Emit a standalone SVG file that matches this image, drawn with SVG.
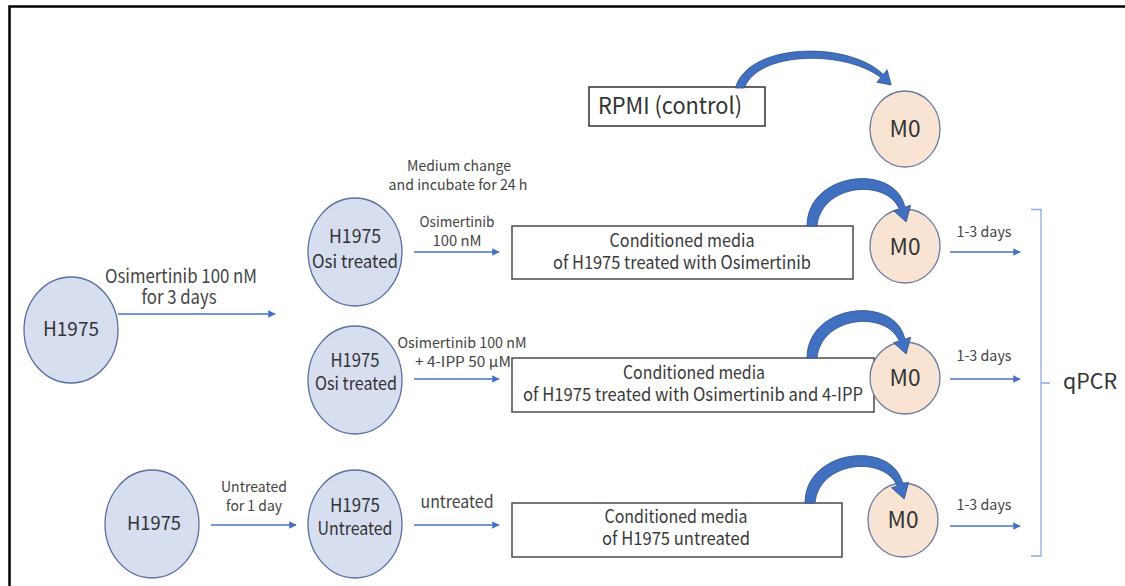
<svg xmlns="http://www.w3.org/2000/svg" xmlns:xlink="http://www.w3.org/1999/xlink" width="1125" height="586" viewBox="0 0 1125 586">
<defs>
<style>
text{font-family:"Noto Sans CJK JP","Liberation Sans",sans-serif;fill:#333;}
.cell{fill:#D7DEF0;stroke:#5A6FA0;stroke-width:1.3;}
.mac{fill:#F9E4D4;stroke:#6A7AA3;stroke-width:1.3;}
.box{fill:#fff;stroke:#4a4a4a;stroke-width:1.5;}
.big{font-size:18.5px;text-anchor:middle;}
.m0{font-size:23px;text-anchor:middle;}
.lbl{font-size:14.5px;text-anchor:middle;fill:#444;}
.bt{font-size:18px;text-anchor:middle;fill:#3a3a3a;}
.thin{stroke:#4472C4;stroke-width:1.5;fill:none;marker-end:url(#ah);}
.curve{fill:#4170C0;stroke:#2F528F;stroke-width:0.8;}
</style>
<marker id="ah" viewBox="0 0 10 10" refX="9" refY="5" markerWidth="5" markerHeight="5" markerUnits="strokeWidth" orient="auto">
<path d="M0,0 L10,5 L0,10 z" fill="#4472C4"/>
</marker>
<path id="bend" d="M 807 226 C 807 172, 895 162, 904.9 207.1 L 910.6 205.3 L 906.2 222 L 893.5 210.7 L 899.2 208.9 C 886 178, 821 184, 817 226 Z"/>
</defs>
<rect width="1125" height="586" fill="#fff"/>
<path d="M 9.5 590 V 6.5 H 1130" fill="none" stroke="#000" stroke-width="2.5"/>

<g id="h1975-start">
<ellipse class="cell" cx="71" cy="330" rx="47" ry="53"/>
<text class="big" x="71" y="336" style="font-size:19.5px" textLength="56" lengthAdjust="spacingAndGlyphs">H1975</text>
</g>
<g id="osi-treated-1">
<ellipse class="cell" cx="355" cy="252" rx="47" ry="54"/>
<text class="big" x="355" y="243" textLength="52" lengthAdjust="spacingAndGlyphs">H1975</text>
<text class="big" x="355" y="268" textLength="86" lengthAdjust="spacingAndGlyphs">Osi treated</text>
</g>
<g id="osi-treated-2">
<ellipse class="cell" cx="355" cy="380" rx="47" ry="54"/>
<text class="big" x="355" y="367" textLength="49" lengthAdjust="spacingAndGlyphs">H1975</text>
<text class="big" x="356" y="390" textLength="82" lengthAdjust="spacingAndGlyphs">Osi treated</text>
</g>
<g id="h1975-untreated-start">
<ellipse class="cell" cx="152" cy="524" rx="47" ry="54"/>
<text class="big" x="154" y="530" textLength="54" lengthAdjust="spacingAndGlyphs">H1975</text>
</g>
<g id="h1975-untreated">
<ellipse class="cell" cx="355" cy="524" rx="47" ry="54"/>
<text class="big" x="355" y="512" textLength="50" lengthAdjust="spacingAndGlyphs">H1975</text>
<text class="big" x="355" y="535" textLength="75" lengthAdjust="spacingAndGlyphs">Untreated</text>
</g>

<g id="rpmi">
<rect class="box" x="589" y="87" width="176" height="39" style="stroke:#333"/>
<text x="598" y="114" style="font-size:23px" textLength="144" lengthAdjust="spacingAndGlyphs">RPMI (control)</text>
</g>
<g id="cm-osi">
<rect class="box" x="512" y="226" width="341" height="53"/>
<text class="bt" x="682" y="247" textLength="145" lengthAdjust="spacingAndGlyphs">Conditioned media</text>
<text class="bt" x="682" y="269" textLength="258" lengthAdjust="spacingAndGlyphs">of H1975 treated with Osimertinib</text>
</g>
<g id="cm-osi-4ipp">
<rect class="box" x="512" y="358" width="362" height="54"/>
<text class="bt" x="694" y="379" textLength="142" lengthAdjust="spacingAndGlyphs">Conditioned media</text>
<text class="bt" x="693" y="401" textLength="340" lengthAdjust="spacingAndGlyphs">of H1975 treated with Osimertinib and 4-IPP</text>
</g>
<g id="cm-untreated">
<rect class="box" x="512" y="503" width="330" height="54"/>
<text class="bt" x="676" y="523" textLength="143" lengthAdjust="spacingAndGlyphs">Conditioned media</text>
<text class="bt" x="676" y="545" textLength="148" lengthAdjust="spacingAndGlyphs">of H1975 untreated</text>
</g>

<g id="m0-control">
<ellipse class="mac" cx="905" cy="129" rx="35" ry="38"/>
<text class="m0" x="905" y="137" textLength="31" lengthAdjust="spacingAndGlyphs">M0</text>
</g>
<g id="m0-osi">
<ellipse class="mac" cx="905" cy="246" rx="35" ry="37"/>
<text class="m0" x="905" y="255" textLength="31" lengthAdjust="spacingAndGlyphs">M0</text>
</g>
<g id="m0-osi-4ipp">
<ellipse class="mac" cx="905" cy="378" rx="35" ry="36"/>
<text class="m0" x="905" y="386" textLength="31" lengthAdjust="spacingAndGlyphs">M0</text>
</g>
<g id="m0-untreated">
<ellipse class="mac" cx="903" cy="520" rx="35" ry="37"/>
<text class="m0" x="903" y="528" textLength="31" lengthAdjust="spacingAndGlyphs">M0</text>
</g>

<g id="qpcr">
<path d="M 1031 209.5 H 1041 V 556 H 1031 M 1041 383 H 1050" fill="none" stroke="#8FAADC" stroke-width="1.3"/>
<text x="1063" y="389" style="font-size:21px" textLength="54" lengthAdjust="spacingAndGlyphs">qPCR</text>
</g>

<g id="connectors">
<line class="thin" x1="118" y1="314" x2="275" y2="314"/>
<text class="lbl" x="181" y="283" style="font-size:19px" textLength="152" lengthAdjust="spacingAndGlyphs">Osimertinib 100 nM</text>
<text class="lbl" x="179" y="304" style="font-size:19px" textLength="75" lengthAdjust="spacingAndGlyphs">for 3 days</text>

<text class="lbl" x="459" y="171" textLength="104" lengthAdjust="spacingAndGlyphs">Medium change</text>
<text class="lbl" x="458" y="190" textLength="139" lengthAdjust="spacingAndGlyphs">and incubate for 24 h</text>
<line class="thin" x1="414" y1="252" x2="499" y2="252"/>
<text class="lbl" x="457" y="227" textLength="75" lengthAdjust="spacingAndGlyphs">Osimertinib</text>
<text class="lbl" x="457" y="246" textLength="49" lengthAdjust="spacingAndGlyphs">100 nM</text>

<line class="thin" x1="414" y1="379" x2="499" y2="379"/>
<text class="lbl" x="462" y="348" textLength="129" lengthAdjust="spacingAndGlyphs">Osimertinib 100 nM</text>
<text class="lbl" x="463" y="367" textLength="96" lengthAdjust="spacingAndGlyphs">+ 4-IPP 50 μM</text>

<line class="thin" x1="211" y1="525" x2="296" y2="525"/>
<text class="lbl" x="254" y="492" textLength="66" lengthAdjust="spacingAndGlyphs">Untreated</text>
<text class="lbl" x="254" y="511" textLength="56" lengthAdjust="spacingAndGlyphs">for 1 day</text>

<line class="thin" x1="414" y1="525" x2="499" y2="525"/>
<text class="lbl" x="457" y="508" style="font-size:17px" textLength="73" lengthAdjust="spacingAndGlyphs">untreated</text>

<line class="thin" x1="950" y1="252" x2="1020" y2="252"/>
<text class="lbl" x="984" y="237" textLength="55" lengthAdjust="spacingAndGlyphs">1-3 days</text>
<line class="thin" x1="950" y1="379" x2="1020" y2="379"/>
<text class="lbl" x="984" y="361" textLength="55" lengthAdjust="spacingAndGlyphs">1-3 days</text>
<line class="thin" x1="950" y1="526" x2="1020" y2="526"/>
<text class="lbl" x="984" y="510" textLength="55" lengthAdjust="spacingAndGlyphs">1-3 days</text>

<path class="curve" d="M 735.5 88 C 747 43, 848 40, 883.3 74.5 L 887.1 69.8 L 891.2 85 L 876.9 82.2 L 880.7 77.5 C 843 49, 757 52, 744.5 88 Z"/>
<use class="curve" xlink:href="#bend"/>
<use class="curve" xlink:href="#bend" transform="translate(0,132)"/>
<use class="curve" xlink:href="#bend" transform="translate(-2,277)"/>
</g>
</svg>
